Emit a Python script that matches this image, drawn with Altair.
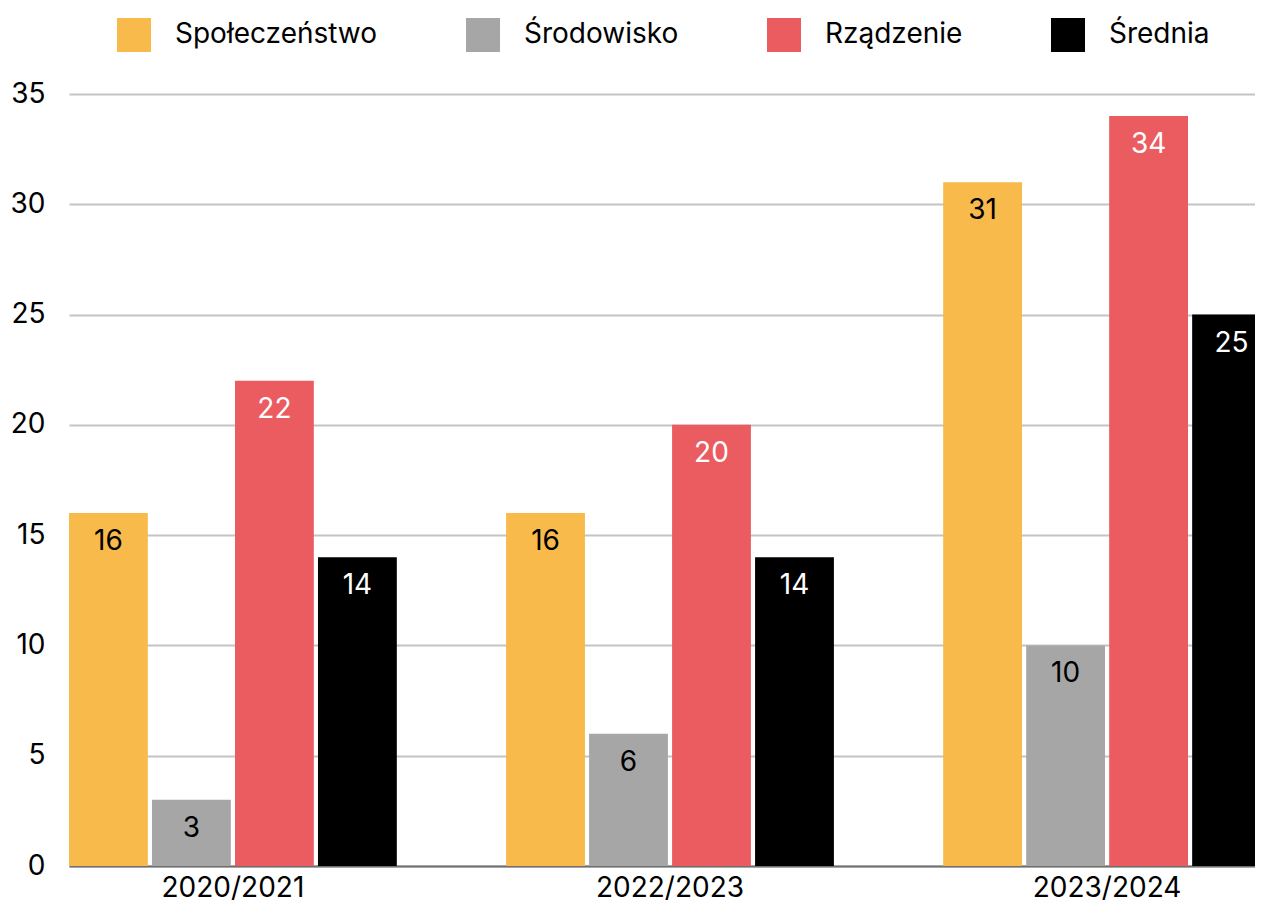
import altair as alt
import pandas as pd

years = ["2020/2021", "2022/2023", "2023/2024"]
series = ["Społeczeństwo", "Środowisko", "Rządzenie", "Średnia"]
spoleczenstwo = [16, 16, 31]
srodowisko = [3, 6, 10]
rzadzenie = [22, 20, 34]
srednia = [14, 14, 25]
colors = ["#F8BA4A", "#A6A6A6", "#EB5C61", "#000000"]
label_colors = ["#000000", "#000000", "#FFFFFF", "#FFFFFF"]
y_ticks = [0, 5, 10, 15, 20, 25, 30, 35]

values = [spoleczenstwo, srodowisko, rzadzenie, srednia]
rows = []
for s, vals, lc in zip(series, values, label_colors):
    for yr, v in zip(years, vals):
        rows.append({"year": yr, "series": s, "value": v, "lc": lc})
df = pd.DataFrame(rows)

FONT = "Inter"

x = alt.X(
    "year:N",
    sort=years,
    scale=alt.Scale(paddingInner=0.25, paddingOuter=0, range=[0, 1202]),
    axis=alt.Axis(
        title=None, labelAngle=0, labelFontSize=28, labelPadding=8,
        labelColor="#000000", domainColor="#6F6F6F", domainWidth=2,
        ticks=False, grid=False,
    ),
)
xo = alt.XOffset("series:N", sort=series,
                 scale=alt.Scale(paddingInner=0.05, paddingOuter=0))
y = alt.Y(
    "value:Q",
    scale=alt.Scale(domain=[0, 35], nice=False),
    axis=alt.Axis(
        values=y_ticks, title=None, domain=False, ticks=False,
        gridColor="#C4C4C4", gridWidth=2, labelFontSize=28,
        labelPadding=24, labelColor="#000000",
    ),
)

bars = alt.Chart(df).mark_bar(clip=True).encode(
    x=x, xOffset=xo, y=y,
    color=alt.Color(
        "series:N", sort=series,
        scale=alt.Scale(domain=series, range=colors),
        legend=alt.Legend(
            title=None, orient="none", legendX=48, legendY=-76,
            direction="horizontal", symbolType="square", symbolSize=1156,
            symbolStrokeWidth=0, symbolOpacity=1, labelFontSize=28,
            labelOffset=24, columnPadding=88, padding=0, labelLimit=600,
            labelColor="#000000",
        ),
    ),
)

text = alt.Chart(df).mark_text(dy=29, baseline="middle", fontSize=28, clip=True).encode(
    x=x, xOffset=xo, y=y,
    text=alt.Text("value:Q"),
    color=alt.Color("lc:N", scale=None),
)

chart = (
    alt.layer(bars, text)
    .properties(
        width=1186, height=772,
        autosize=alt.AutoSizeParams(type="none"),
        padding={"left": 61, "top": 86, "right": 0, "bottom": 41},
    )
    .configure(font=FONT)
    .configure_view(stroke=None)
)

chart.save("out.html", embed_options={"renderer": "svg", "actions": False})
